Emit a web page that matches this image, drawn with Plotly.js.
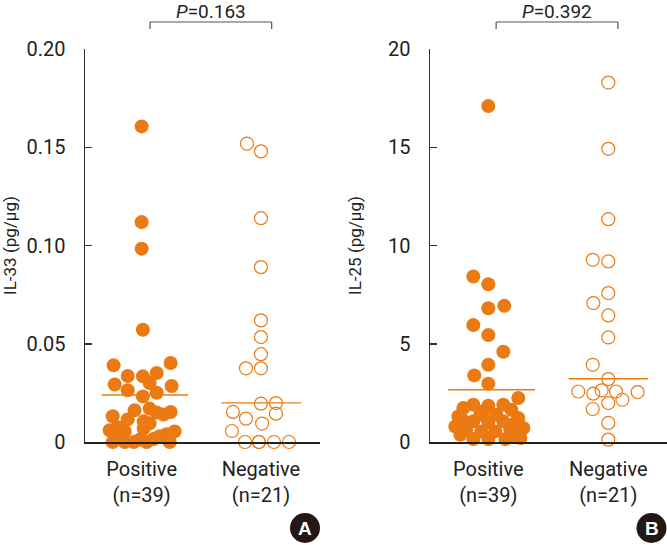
<!DOCTYPE html>
<html>
<head>
<meta charset="utf-8">
<script src="https://cdn.plot.ly/plotly-3.0.1.min.js"></script>
<style>html,body{margin:0;padding:0;background:#fff;}#chart{width:667px;height:545px;}</style>
</head>
<body>
<div id="chart"></div>
<script>
// ---------- data ----------
const categories = ['Positive<br>(n=39)', 'Negative<br>(n=21)'];
const panelLetters = ['A', 'B'];
const pValueLabels = ['<i>P</i>=0.163', '<i>P</i>=0.392'];

const il33TickVals = [0, 0.05, 0.10, 0.15, 0.20];
const il33TickText = ['0', '0.05', '0.10', '0.15', '0.20'];
const il25TickVals = [0, 5, 10, 15, 20];
const il25TickText = ['0', '5', '10', '15', '20'];

// IL-33, positive group (n=39)
const il33Pos = [0.1606, 0.1119, 0.0984, 0.0571, 0.0390, 0.0402, 0.0336, 0.0334, 0.0351, 0.0300,
  0.0293, 0.0285, 0.0263, 0.0251, 0.0232, 0.0161, 0.0170, 0.0150, 0.0153, 0.0131,
  0.0115, 0.0105, 0.0060, 0.0054, 0.0068, 0.0054, 0.0029, 0, 0, 0,
  0, 0, 0.0012, 0.0030, 0.0015, 0.0075, 0.0040, 0.0140, 0.0095];
const il33PosJitter = [0, 0, 0, 0.01, -0.235, 0.243, -0.117, 0.01, 0.126, 0.067,
  -0.226, 0.251, -0.117, 0.126, 0.01, -0.059, 0.067, 0.126, 0.243, -0.243,
  -0.117, 0.017, -0.268, -0.142, 0.017, 0.277, 0.151, -0.243, -0.142, -0.067,
  0.042, 0.235, -0.017, -0.184, 0.1, -0.201, 0.21, 0.184, 0.067];
// IL-33, negative group (n=21)
const il33Neg = [0.1518, 0.1479, 0.1139, 0.0890, 0.0619, 0.0534, 0.0447, 0.0375, 0.0375, 0.0195,
  0.0198, 0.0153, 0.0144, 0.0119, 0.0094, 0.0056, 0, 0, 0, 0, 0];
const il33NegJitter = [-0.117, 0, 0, 0, 0, 0, 0, -0.126, 0, 0,
  0.126, -0.235, 0.126, -0.126, 0.01, -0.243, -0.134, -0.017, 0.109, 0.235, -0.017];
// IL-25, positive group (n=39)
const il25Pos = [17.1, 8.42, 8.03, 6.81, 6.93, 5.95, 5.44, 4.59, 3.93, 3.39,
  2.97, 2.24, 1.73, 1.90, 1.85, 1.90, 1.64, 1.30, 1.39, 1.39,
  1.22, 0.79, 1.05, 1.00, 1.05, 0.63, 0.54, 0.54, 0.63, 0.71,
  0.37, 0.15, 0.15, 0.15, 0.20, 1.10, 0.90, 1.55, 0.35];
const il25PosJitter = [0, -0.125, 0, 0, 0.133, -0.125, 0, 0.125, 0, -0.117,
  0, 0.25, -0.208, -0.125, 0, 0.125, 0.192, -0.25, -0.067, 0.067,
  0.25, -0.275, -0.125, 0, 0.125, -0.183, -0.058, 0.058, 0.183, 0.292,
  -0.233, -0.125, 0, 0.142, 0.267, -0.208, 0.208, -0.042, 0.208];
// IL-25, negative group (n=21)
const il25Neg = [18.29, 14.92, 11.34, 9.27, 9.19, 7.58, 7.07, 6.44, 5.32, 3.93,
  3.20, 2.57, 2.46, 2.63, 2.57, 2.54, 1.98, 2.15, 1.68, 0.97, 0.12];
const il25NegJitter = [0, 0, 0, -0.13, 0, 0, -0.125, 0, 0, -0.13,
  0, -0.25, -0.125, -0.056, 0.064, 0.244, 0, 0.117, -0.13, 0, 0];
// group means (horizontal lines)
const il33Means = [0.0239, 0.0199];
const il25Means = [2.66, 3.22];

// ---------- styling ----------
const ORANGE = '#EC7A12';
const FAMILY = 'Roboto, "Liberation Sans", sans-serif';
function f(size, color) { return {family: FAMILY, size: size, color: color || '#222'}; }

function pts(vals, jit, cat) { return vals.map((v, i) => cat + jit[i]); }

function filled(vals, jit, cat, xa, ya) {
  return {type: 'scatter', mode: 'markers', x: pts(vals, jit, cat), y: vals, xaxis: xa, yaxis: ya,
    cliponaxis: false, hoverinfo: 'y',
    marker: {size: 14, color: ORANGE, line: {width: 0}}};
}
function open(vals, jit, cat, xa, ya) {
  return {type: 'scatter', mode: 'markers', x: pts(vals, jit, cat), y: vals, xaxis: xa, yaxis: ya,
    cliponaxis: false, hoverinfo: 'y',
    marker: {size: 13, color: ORANGE, symbol: 'circle-open', line: {width: 1.2, color: ORANGE}}};
}
function meanLine(m, cat, left, right, xa, ya) {
  return {type: 'scatter', mode: 'lines', x: [cat - left, cat + right], y: [m, m], xaxis: xa, yaxis: ya,
    cliponaxis: false, hoverinfo: 'skip', line: {color: ORANGE, width: 1.4}};
}

const traces = [
  meanLine(il33Means[0], 0, 0.335, 0.39, 'x', 'y'),
  meanLine(il33Means[1], 1, 0.33, 0.335, 'x', 'y'),
  meanLine(il25Means[0], 0, 0.335, 0.39, 'x2', 'y2'),
  meanLine(il25Means[1], 1, 0.33, 0.33, 'x2', 'y2'),
  filled(il33Pos, il33PosJitter, 0, 'x', 'y'),
  open(il33Neg, il33NegJitter, 1, 'x', 'y'),
  filled(il25Pos, il25PosJitter, 0, 'x2', 'y2'),
  open(il25Neg, il25NegJitter, 1, 'x2', 'y2')
];

const W = 667, H = 545;
const yDom = [(H - 442) / H, (H - 49) / H];

function xAxis(dom, range) {
  return {domain: dom, range: range, showgrid: false, zeroline: false,
    showline: true, linecolor: '#222', linewidth: 1.5,
    tickmode: 'array', tickvals: [0, 1], ticktext: categories, ticks: '',
    tickfont: f(20), ticklabelstandoff: 8, fixedrange: true};
}
function yAxis(anchor, range, tv, tt, title, standoff) {
  return {anchor: anchor, domain: yDom, range: range, showgrid: false, zeroline: false,
    showline: true, linecolor: '#333', linewidth: 1.5,
    tickmode: 'array', tickvals: tv, ticktext: tt, ticks: 'inside', ticklen: 7, tickwidth: 1.5, tickcolor: '#333',
    tickfont: f(20), ticklabelstandoff: 14,
    title: {text: title, font: f(17), standoff: standoff}, fixedrange: true};
}

const layout = {
  width: W, height: H, margin: {l: 0, r: 0, t: 0, b: 0},
  paper_bgcolor: '#fff', plot_bgcolor: 'rgba(0,0,0,0)', showlegend: false,
  xaxis: Object.assign(xAxis([85 / W, 320 / W], [-0.475, 1.495]), {anchor: 'y'}),
  xaxis2: Object.assign(xAxis([430 / W, 667 / W], [-0.486, 1.489]), {anchor: 'y2'}),
  yaxis: yAxis('x', [0, 0.2], il33TickVals, il33TickText, 'IL-33 (pg/μg)', 12),
  yaxis2: yAxis('x2', [0, 20], il25TickVals, il25TickText, 'IL-25 (pg/μg)', 22),
  shapes: [], annotations: []
};

// significance brackets
[['x', 0.07, 1.09, 0], ['x2', 0.065, 1.08, 1]].forEach(([xr, a, b, k]) => {
  const top = 1 - 22 / H, bot = 1 - 29 / H;
  [[a, top, b, top], [a, top, a, bot], [b, top, b, bot]].forEach(s => {
    layout.shapes.push({type: 'line', xref: xr, yref: 'paper', x0: s[0], y0: s[1], x1: s[2], y1: s[3],
      line: {color: '#555', width: 1.2}});
  });
  layout.annotations.push({xref: xr, yref: 'paper', x: (a + b) / 2, y: 1 - 11 / H, yanchor: 'middle',
    text: pValueLabels[k], showarrow: false, font: f(19)});
});

// panel letters
[[305 / W, panelLetters[0]], [651.5 / W, panelLetters[1]]].forEach(([px, letter]) => {
  const cy = 1 - 528 / H, rx = 15 / W, ry = 15 / H;
  layout.shapes.push({type: 'circle', xref: 'paper', yref: 'paper', x0: px - rx, x1: px + rx, y0: cy - ry, y1: cy + ry,
    fillcolor: '#231815', line: {width: 0}});
  layout.annotations.push({xref: 'paper', yref: 'paper', x: px, y: cy, xanchor: 'center', yanchor: 'middle',
    text: '<b>' + letter + '</b>', showarrow: false, font: {family: 'Liberation Sans, Arial, sans-serif', size: 19, color: '#fff'}});
});

Plotly.newPlot('chart', traces, layout, {staticPlot: true, displayModeBar: false});
</script>
</body>
</html>
